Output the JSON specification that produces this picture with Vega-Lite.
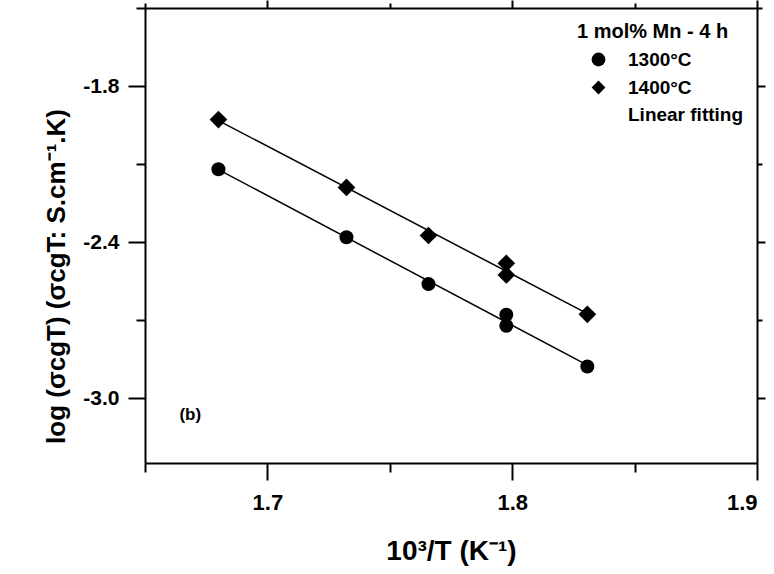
{
  "$schema": "https://vega.github.io/schema/vega-lite/v6.json",
  "width": 612,
  "height": 455,
  "autosize": {"type": "none"},
  "padding": {"left": 145, "top": 8, "right": 17, "bottom": 111},
  "background": "white",
  "config": {
    "view": {"stroke": null},
    "font": "Liberation Sans"
  },
  "data": {
    "values": [
      {"series": "1300°C", "x": 1.68, "y": -2.12},
      {"series": "1300°C", "x": 1.7323, "y": -2.382},
      {"series": "1300°C", "x": 1.7658, "y": -2.562},
      {"series": "1300°C", "x": 1.7976, "y": -2.68},
      {"series": "1300°C", "x": 1.7976, "y": -2.722},
      {"series": "1300°C", "x": 1.8307, "y": -2.879},
      {"series": "1400°C", "x": 1.68, "y": -1.929},
      {"series": "1400°C", "x": 1.7323, "y": -2.19},
      {"series": "1400°C", "x": 1.7658, "y": -2.375},
      {"series": "1400°C", "x": 1.7976, "y": -2.482},
      {"series": "1400°C", "x": 1.7976, "y": -2.527},
      {"series": "1400°C", "x": 1.8307, "y": -2.678}
    ]
  },
  "layer": [
    {
      "transform": [{"regression": "y", "on": "x", "groupby": ["series"]}],
      "mark": {"type": "line", "color": "black", "strokeWidth": 1.5},
      "encoding": {
        "x": {"field": "x", "type": "quantitative", "axis": null},
        "y": {"field": "y", "type": "quantitative", "axis": null},
        "detail": {"field": "series"}
      }
    },
    {
      "mark": {"type": "point", "filled": true, "color": "black", "opacity": 1},
      "encoding": {
        "x": {
          "field": "x", "type": "quantitative",
          "scale": {"domain": [1.65, 1.9], "nice": false, "zero": false},
          "axis": {
            "orient": "bottom",
            "title": "10³/T (K⁻¹)",
            "values": [1.65, 1.7, 1.75, 1.8, 1.85, 1.9],
            "format": ".1f",
            "labelExpr": "abs(round(datum.value*10) - datum.value*10) < 0.01 ? datum.label : ''",
            "tickSize": {"condition": {"test": "abs(round(datum.value*10) - datum.value*10) < 0.01", "value": 17}, "value": 9},
            "domainColor": "black", "domainWidth": 2, "tickColor": "black", "tickWidth": 2,
            "labelFont": "Liberation Sans", "labelFontWeight": "bold", "labelColor": "black", "labelFontSize": 22,
            "titleFont": "Liberation Sans", "titleFontWeight": "bold", "titleColor": "black", "titleFontSize": 28,
            "grid": false,
            "labelPadding": 12,
            "titlePadding": 24
          }
        },
        "y": {
          "field": "y", "type": "quantitative",
          "scale": {"domain": [-3.25, -1.5], "nice": false, "zero": false},
          "axis": {
            "orient": "left",
            "title": "log (σcgT) (σcgT: S.cm⁻¹.K)",
            "values": [-3.0, -2.7, -2.4, -2.1, -1.8, -1.5],
            "format": ".1f",
            "labelExpr": "abs(round(datum.value/0.6)*0.6 - datum.value) < 0.001 ? replace(datum.label, '−', '-') : ''",
            "tickSize": {"condition": {"test": "abs(round(datum.value/0.6)*0.6 - datum.value) < 0.001", "value": 17}, "value": 9},
            "domainColor": "black", "domainWidth": 2, "tickColor": "black", "tickWidth": 2,
            "labelFont": "Liberation Sans", "labelFontWeight": "bold", "labelColor": "black", "labelFontSize": 21,
            "titleFont": "Liberation Sans", "titleFontWeight": "bold", "titleColor": "black", "titleFontSize": 26,
            "grid": false,
            "labelPadding": 9,
            "titlePadding": 13,
            "titleY": 268
          }
        },
        "shape": {
          "field": "series", "type": "nominal",
          "scale": {"domain": ["1300°C", "1400°C", "Linear fitting"], "range": ["circle", "diamond", "M0,0"]},
          "legend": {
            "title": "1 mol% Mn - 4 h",
            "orient": "none", "legendX": 432, "legendY": 14,
            "symbolSize": 190, "symbolFillColor": "black", "symbolStrokeColor": "black", "symbolType": "circle",
            "symbolOffset": 12, "labelOffset": 20, "rowPadding": 7, "titlePadding": 8,
            "labelFont": "Liberation Sans", "labelFontWeight": "bold", "labelFontSize": 19, "labelColor": "black",
            "titleFont": "Liberation Sans", "titleFontWeight": "bold", "titleFontSize": 20, "titleColor": "black"
          }
        },
        "size": {"condition": {"test": "datum.series == '1400°C'", "value": 313}, "value": 196}
      }
    },
    {
      "data": {"values": [{"label": "(b)"}]},
      "mark": {"type": "text", "font": "Liberation Sans", "fontWeight": "bold", "fontSize": 17, "color": "black", "align": "center", "baseline": "middle"},
      "encoding": {
        "x": {"datum": 1.6685, "type": "quantitative", "axis": null},
        "y": {"datum": -3.064, "type": "quantitative", "axis": null},
        "text": {"field": "label"}
      }
    },
    {
      "mark": {"type": "point", "opacity": 0},
      "encoding": {
        "x": {
          "field": "x", "type": "quantitative",
          "axis": {
            "orient": "top", "title": null, "labels": false, "grid": false,
            "domainColor": "black", "domainWidth": 2, "tickColor": "black", "tickWidth": 2,
            "values": [1.65, 1.7, 1.75, 1.8, 1.85, 1.9],
            "tickSize": {"condition": {"test": "abs(round(datum.value*10) - datum.value*10) < 0.01", "value": 8}, "value": 5}
          }
        },
        "y": {
          "field": "y", "type": "quantitative",
          "axis": {
            "orient": "right", "title": null, "labels": false, "grid": false,
            "domainColor": "black", "domainWidth": 2, "tickColor": "black", "tickWidth": 2,
            "values": [-3.0, -2.7, -2.4, -2.1, -1.8, -1.5],
            "tickSize": {"condition": {"test": "abs(round(datum.value/0.6)*0.6 - datum.value) < 0.001", "value": 8}, "value": 5}
          }
        }
      }
    }
  ],
  "resolve": {"axis": {"x": "independent", "y": "independent"}}
}
